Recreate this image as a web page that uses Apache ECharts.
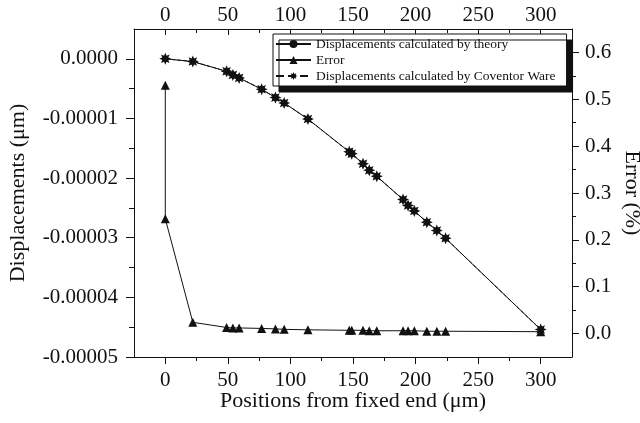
<!DOCTYPE html>
<html>
<head>
<meta charset="utf-8">
<script src="https://cdn.jsdelivr.net/npm/echarts@6/dist/echarts.min.js"></script>
<style>
  html, body { margin: 0; padding: 0; background: #fff; }
  #chart { width: 640px; height: 423px; }
</style>
</head>
<body>
<div id="chart"></div>
<script>
// positions along the beam (um)
const positions = [0, 22, 49, 54, 59, 77, 88, 95, 114, 147, 149, 158, 163, 169, 190, 194, 199, 209, 217, 224, 300];
const theoryDisp = [0, -0.00000046, -0.0000021, -0.0000027, -0.0000032, -0.0000051, -0.0000065, -0.0000074, -0.0000101,
  -0.0000156, -0.0000159, -0.0000176, -0.0000187, -0.0000197, -0.0000236, -0.0000246, -0.0000255, -0.0000274,
  -0.0000288, -0.0000301, -0.0000454];
const coventorDisp = [0, -0.00000046, -0.0000021, -0.0000027, -0.0000032, -0.0000051, -0.0000065, -0.0000074, -0.0000101,
  -0.0000156, -0.0000159, -0.0000176, -0.0000187, -0.0000197, -0.0000236, -0.0000246, -0.0000255, -0.0000274,
  -0.0000288, -0.0000301, -0.0000454];
const errorPos = [0, 0, 22, 49, 54, 59, 77, 88, 95, 114, 147, 149, 158, 163, 169, 190, 194, 199, 209, 217, 224, 300];
const errorPct = [0.53, 0.245, 0.024, 0.013, 0.012, 0.012, 0.011, 0.010, 0.009, 0.008, 0.007, 0.007, 0.007, 0.006,
  0.006, 0.006, 0.006, 0.006, 0.005, 0.005, 0.005, 0.004];

const xTicks = [0, 50, 100, 150, 200, 250, 300];
const xMinorTicks = [25, 75, 125, 175, 225, 275];
const dispTicks = [0, -0.00001, -0.00002, -0.00003, -0.00004, -0.00005];
const dispMinorTicks = [-0.000005, -0.000015, -0.000025, -0.000035, -0.000045];
const errTicks = [0, 0.1, 0.2, 0.3, 0.4, 0.5, 0.6];
const errMinorTicks = [0.05, 0.15, 0.25, 0.35, 0.45, 0.55];

const ink = '#111';
const serif = "'Liberation Serif', 'Times New Roman', serif";
// eight-point burst used for the Coventor markers
const star = 'path://M20,10L15.08,7.89L17.07,2.93L12.1,4.92L10,0L7.9,4.92L2.93,2.93L4.92,7.89L0,10L4.92,12.11L2.93,17.07L7.9,15.08L10,20L12.1,15.08L17.07,17.07L15.08,12.11Z';

function xAxisOf(pos, ticks, len, labels, inside) {
  return {
    type: 'value', position: pos, min: -25, max: 325,
    axisLine: { show: labels, onZero: false, lineStyle: { color: ink, width: 1 } },
    axisTick: { show: true, inside: inside, length: len, customValues: ticks, lineStyle: { color: ink } },
    axisLabel: { show: labels, customValues: ticks, color: ink, fontSize: 21, fontFamily: serif, margin: pos === 'top' ? 3 : 13 },
    splitLine: { show: false }
  };
}
function yAxisOf(pos, min, max, ticks, len, labels, fmt, margin) {
  return {
    type: 'value', position: pos, min: min, max: max,
    axisLine: { show: labels, onZero: false, lineStyle: { color: ink, width: 1 } },
    axisTick: { show: true, length: len, customValues: ticks, lineStyle: { color: ink } },
    axisLabel: { show: labels, customValues: ticks, color: ink, fontSize: 21, fontFamily: serif, margin: margin, formatter: fmt },
    splitLine: { show: false }
  };
}

const chart = echarts.init(document.getElementById('chart'));

const bottom = xAxisOf('bottom', xTicks, 7, true, false);
bottom.name = 'Positions from fixed end (\u03bcm)';
bottom.nameLocation = 'middle';
bottom.nameGap = 33;
bottom.nameMoveOverlap = false;
bottom.nameTextStyle = { color: ink, fontSize: 22, fontFamily: serif };

const left = yAxisOf('left', -0.00005, 0.000005, dispTicks, 8, true,
  v => (Math.abs(v) < 1e-12 ? '0.0000' : v.toFixed(5)), 16);
left.name = 'Displacements (\u03bcm)';
left.nameLocation = 'middle';
left.nameGap = 105;
left.nameMoveOverlap = false;
left.nameTextStyle = { color: ink, fontSize: 22, fontFamily: serif };

const right = yAxisOf('right', -0.05, 0.65, errTicks, 7, true, v => v.toFixed(1), 13);
right.name = 'Error (%)';
right.nameLocation = 'middle';
right.nameRotate = -90;
right.nameGap = 49;
right.nameMoveOverlap = false;
right.nameTextStyle = { color: ink, fontSize: 22, fontFamily: serif };

chart.setOption({
  animation: false,
  backgroundColor: '#fff',
  grid: { left: 134, right: 68, top: 29, bottom: 66, containLabel: false, outerBoundsMode: 'none' },
  legend: {
    orient: 'vertical',
    left: 273,
    top: 34,
    padding: [2, 11, 2, 2],
    itemGap: 0,
    itemWidth: 35,
    itemHeight: 10,
    backgroundColor: '#fff',
    borderColor: ink,
    borderWidth: 1,
    shadowColor: '#111',
    shadowBlur: 0,
    shadowOffsetX: 6,
    shadowOffsetY: 6,
    textStyle: { color: ink, fontSize: 13.5, fontFamily: serif, lineHeight: 16 },
    data: ['Displacements calculated by theory', 'Error', 'Displacements calculated by Coventor Ware']
  },
  xAxis: [
    bottom,
    xAxisOf('top', xTicks, 6, true, true),
    xAxisOf('bottom', xMinorTicks, 4, false, false),
    xAxisOf('top', xMinorTicks, 4, false, true)
  ],
  yAxis: [
    left,
    right,
    yAxisOf('left', -0.00005, 0.000005, dispMinorTicks, 5, false, null, 16),
    yAxisOf('right', -0.05, 0.65, errMinorTicks, 4, false, null, 13)
  ],
  series: [
    {
      name: 'Displacements calculated by theory',
      type: 'line',
      xAxisIndex: 0, yAxisIndex: 0,
      data: positions.map((x, i) => [x, theoryDisp[i]]),
      symbol: 'circle', symbolSize: 6,
      itemStyle: { color: ink },
      lineStyle: { color: ink, width: 1 },
      z: 2
    },
    {
      name: 'Error',
      type: 'line',
      xAxisIndex: 0, yAxisIndex: 1,
      data: errorPos.map((x, i) => [x, errorPct[i]]),
      symbol: 'triangle', symbolSize: 9,
      itemStyle: { color: ink },
      lineStyle: { color: ink, width: 1 },
      z: 3
    },
    {
      name: 'Displacements calculated by Coventor Ware',
      type: 'line',
      xAxisIndex: 0, yAxisIndex: 0,
      data: positions.map((x, i) => [x, coventorDisp[i]]),
      symbol: star, symbolSize: 12,
      itemStyle: { color: ink },
      lineStyle: { color: ink, width: 1, type: 'dashed' },
      z: 4
    }
  ]
});
</script>
</body>
</html>
